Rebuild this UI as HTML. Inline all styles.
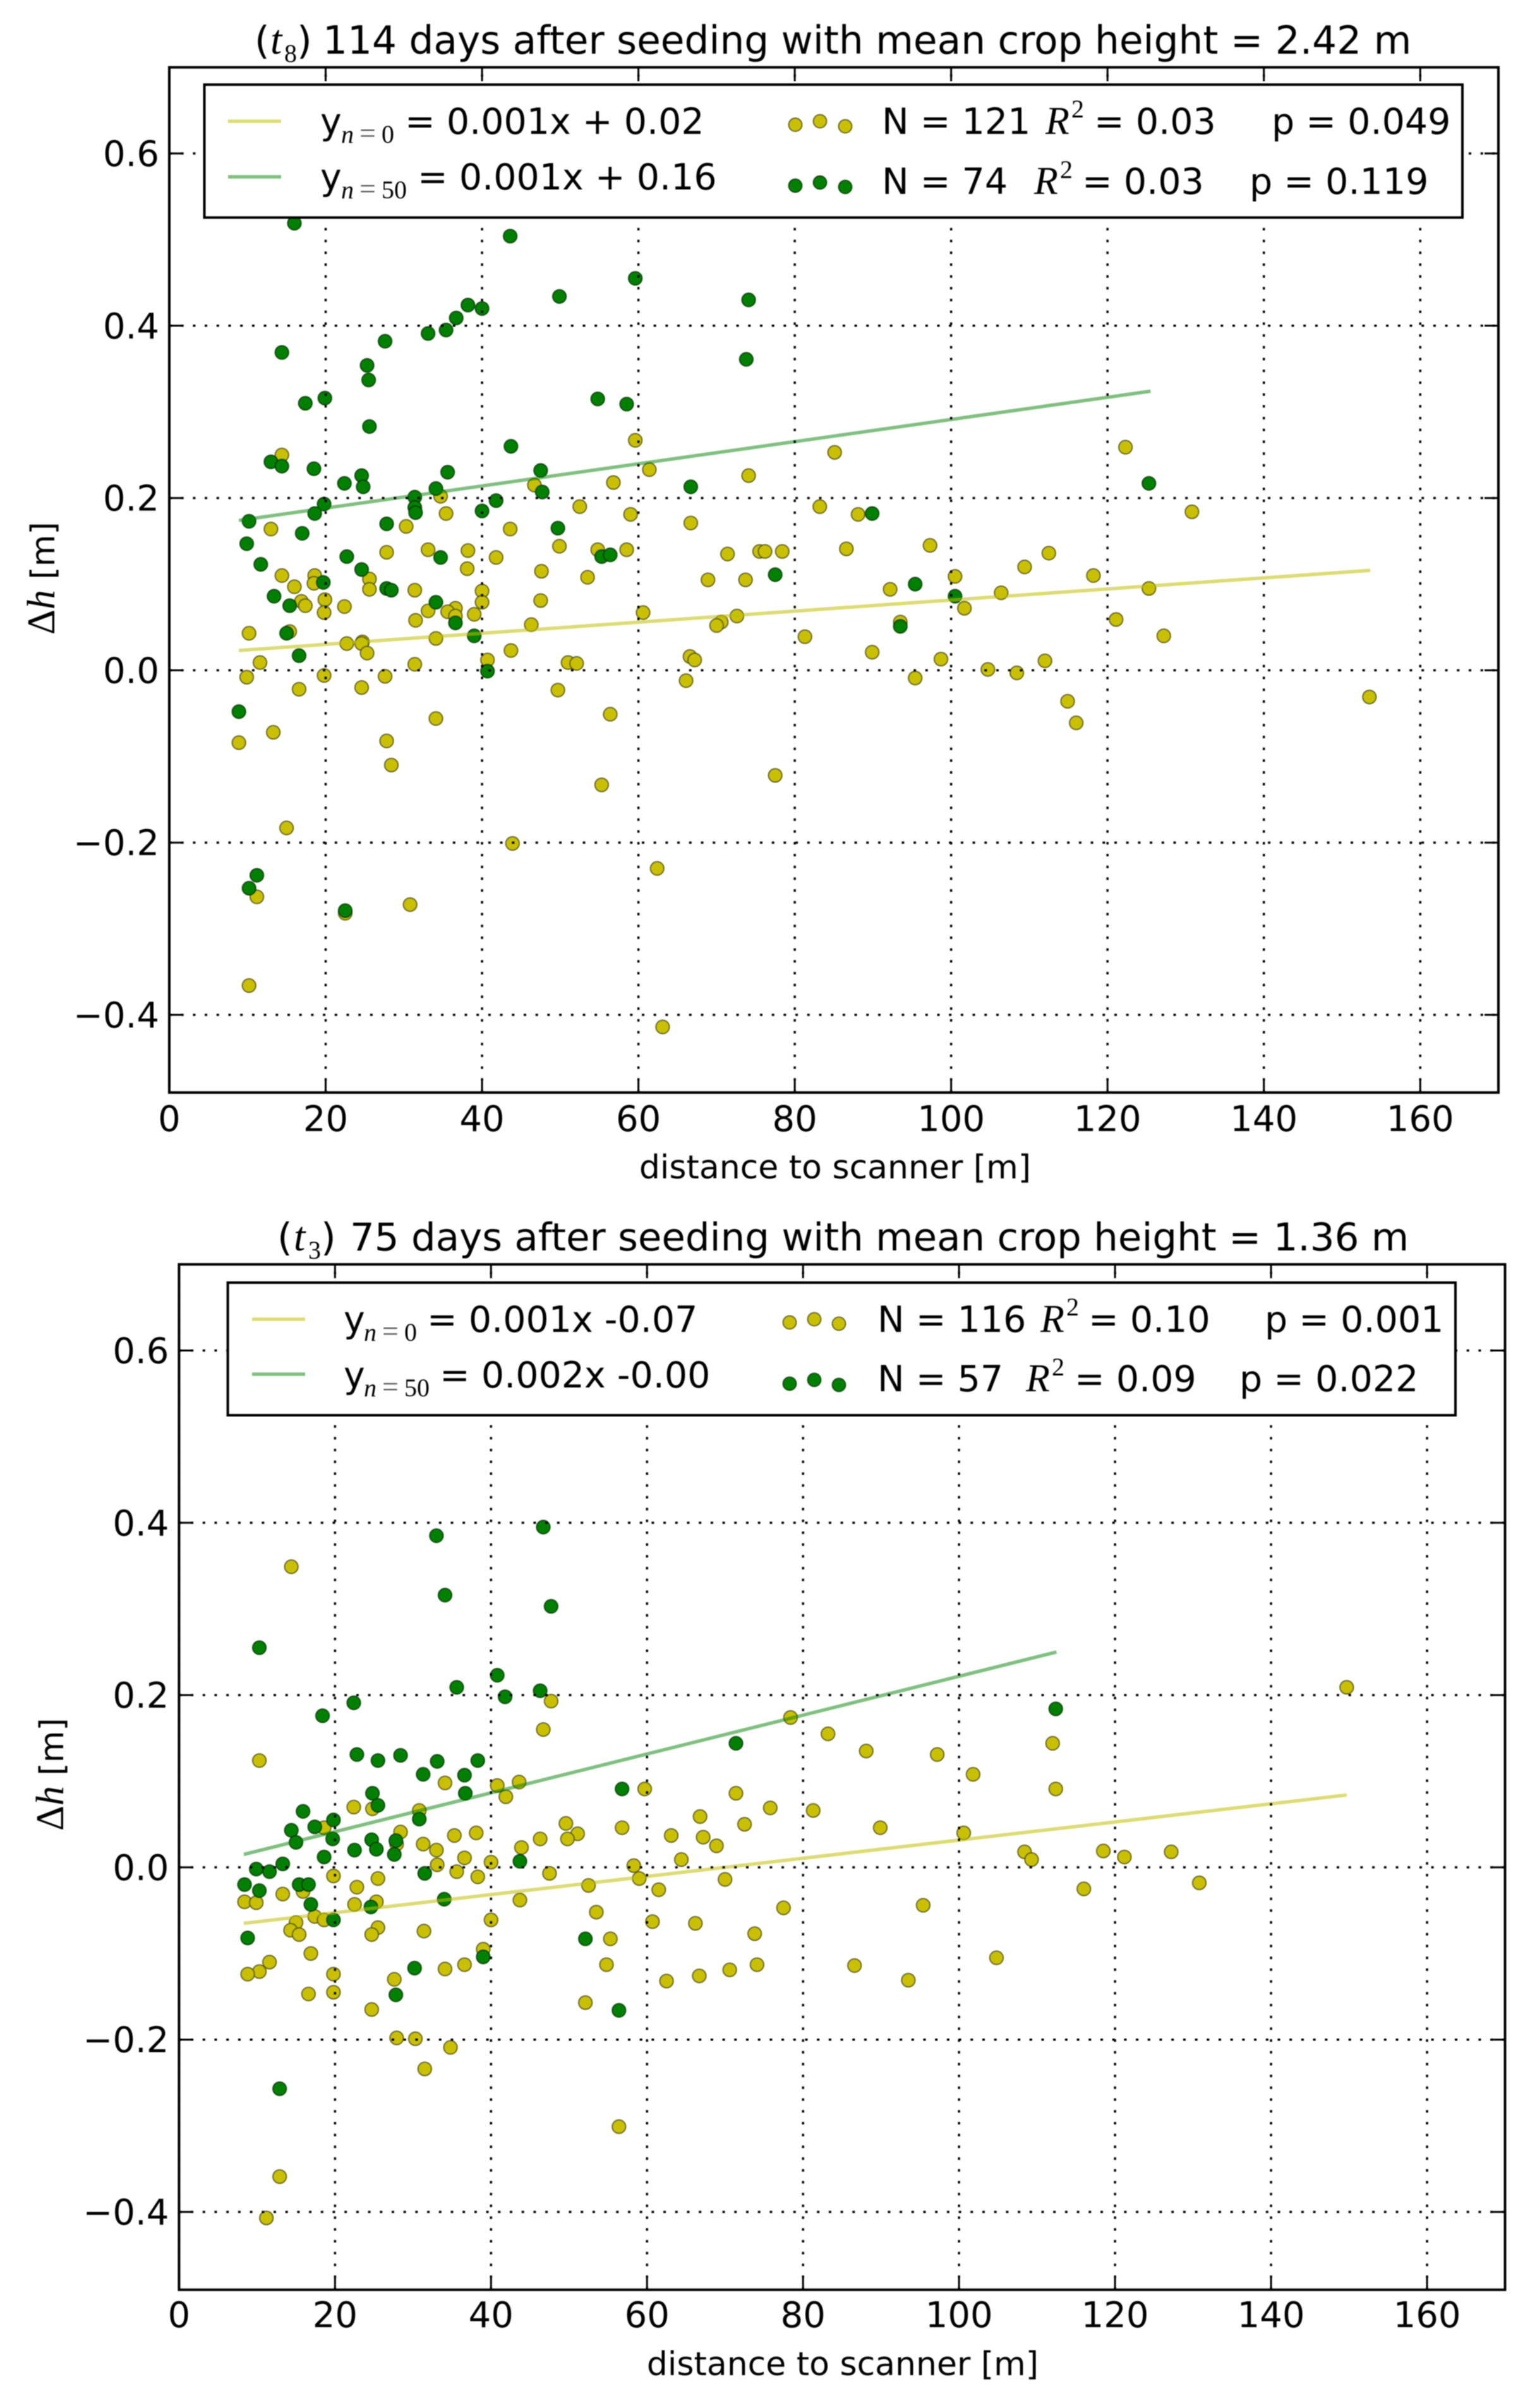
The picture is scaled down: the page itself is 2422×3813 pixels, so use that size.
<!DOCTYPE html>
<html>
<head>
<meta charset="utf-8">
<title>Crop height difference versus distance to scanner</title>
<style>
html,body{margin:0;padding:0;background:#fff;}
svg{display:block;filter:blur(0.7px);}
text{font-family:"DejaVu Sans","Liberation Sans",sans-serif;fill:#000;}
.m{font-family:"Liberation Serif","DejaVu Serif",serif;font-style:italic;}
.u{font-family:"Liberation Serif","DejaVu Serif",serif;}
.title{font-size:61px;}
.tm{font-size:66px;}
.leg{font-size:57px;}
.sub{font-size:40px;}
.ssym{font-size:46px;fill:#555;}
.rr{font-size:62px;}
.tick{font-size:56px;}
.axl{font-size:52px;}
</style>
</head>
<body>
<svg id="figure" xmlns="http://www.w3.org/2000/svg" width="2422" height="3813" viewBox="0 0 2422 3813">
<rect width="2422" height="3813" fill="#fff"/>

<g id="panel-t8"></g>
<g>
<text class="title" x="403" y="85">(</text>
<text class="tm m" x="428" y="85">t</text>
<text class="sub u" x="450" y="98">8</text>
<text class="title" x="470" y="85">)</text>
<text class="title" style="font-size:61.3px" x="511" y="85">114 days after seeding with mean crop height = 2.42 m</text>
</g>
<text class="axl" x="1322" y="1866" text-anchor="middle">distance to scanner [m]</text>
<g transform="translate(86,1005) rotate(-90)">
<text class="axl" x="0" y="0"><tspan class="u" style="font-size:62px">Δ</tspan><tspan class="m" style="font-size:62px">h</tspan> [m]</text>
</g>
<g>
<rect x="323.5" y="134" width="1991.5" height="210.5" fill="#fff" stroke="#000" stroke-width="4"/>
<line x1="361" x2="445" y1="192" y2="192" stroke="#bfbf00" stroke-opacity="0.55" stroke-width="5.5"/>
<line x1="361" x2="445" y1="280" y2="280" stroke="#008000" stroke-opacity="0.5" stroke-width="5.5"/>
<text class="leg" x="507" y="212">y</text>
<text class="sub m" x="540" y="226">n</text><text class="ssym u" x="569" y="226">=</text><text class="sub u" x="604" y="226">0</text>
<text class="leg" x="641" y="212">= 0.001x + 0.02</text>
<text class="leg" x="507" y="300">y</text>
<text class="sub m" x="540" y="314">n</text><text class="ssym u" x="569" y="314">=</text><text class="sub u" x="604" y="314">50</text>
<text class="leg" x="661" y="300">= 0.001x + 0.16</text>
<g fill="#c8c000" stroke="#4a4a10" stroke-opacity="0.75" stroke-width="2"><circle cx="1259" cy="197.5" r="10.5"/><circle cx="1298" cy="192" r="10.5"/><circle cx="1338" cy="200" r="10.5"/></g>
<g fill="#008000" stroke="#003000" stroke-opacity="0.75" stroke-width="2"><circle cx="1259" cy="294" r="10.5"/><circle cx="1298" cy="289" r="10.5"/><circle cx="1338" cy="296" r="10.5"/></g>
<text class="leg" x="1396" y="212">N = 121</text><text class="rr m" x="1655" y="212">R</text><text class="sub u" x="1696" y="186">2</text><text class="leg" x="1732" y="212">= 0.03</text><text class="leg" x="2013" y="212">p = 0.049</text>
<text class="leg" x="1396" y="307">N = 74</text><text class="rr m" x="1637" y="307">R</text><text class="sub u" x="1678" y="282">2</text><text class="leg" x="1713" y="307">= 0.03</text><text class="leg" x="1978" y="307">p = 0.119</text>
</g>

<g id="panel-t3"></g>
<g>
<text class="title" x="439" y="1980">(</text>
<text class="tm m" x="465" y="1980">t</text>
<text class="sub u" x="488" y="1993">3</text>
<text class="title" x="508" y="1980">)</text>
<text class="title" x="554" y="1980">75 days after seeding with mean crop height = 1.36 m</text>
</g>
<text class="axl" x="1334" y="3761" text-anchor="middle">distance to scanner [m]</text>
<g transform="translate(100,2899) rotate(-90)">
<text class="axl" x="0" y="0"><tspan class="u" style="font-size:62px">Δ</tspan><tspan class="m" style="font-size:62px">h</tspan> [m]</text>
</g>
<g>
<rect x="360.6" y="2031" width="1943.4" height="210" fill="#fff" stroke="#000" stroke-width="4"/>
<line x1="399" x2="483" y1="2089" y2="2089" stroke="#bfbf00" stroke-opacity="0.55" stroke-width="5.5"/>
<line x1="399" x2="483" y1="2176" y2="2176" stroke="#008000" stroke-opacity="0.5" stroke-width="5.5"/>
<text class="leg" x="544" y="2109">y</text>
<text class="sub m" x="576" y="2123">n</text><text class="ssym u" x="605" y="2123">=</text><text class="sub u" x="640" y="2123">0</text>
<text class="leg" x="676" y="2109">= 0.001x -0.07</text>
<text class="leg" x="544" y="2197">y</text>
<text class="sub m" x="576" y="2211">n</text><text class="ssym u" x="605" y="2211">=</text><text class="sub u" x="640" y="2211">50</text>
<text class="leg" x="696" y="2197">= 0.002x -0.00</text>
<g fill="#c8c000" stroke="#4a4a10" stroke-opacity="0.75" stroke-width="2"><circle cx="1250" cy="2094" r="10.5"/><circle cx="1289" cy="2089" r="10.5"/><circle cx="1328" cy="2096" r="10.5"/></g>
<g fill="#008000" stroke="#003000" stroke-opacity="0.75" stroke-width="2"><circle cx="1250" cy="2191" r="10.5"/><circle cx="1289" cy="2185" r="10.5"/><circle cx="1328" cy="2193" r="10.5"/></g>
<text class="leg" x="1389" y="2109">N = 116</text><text class="rr m" x="1647" y="2109">R</text><text class="sub u" x="1688" y="2083">2</text><text class="leg" x="1723" y="2109">= 0.10</text><text class="leg" x="2002" y="2109">p = 0.001</text>
<text class="leg" x="1389" y="2203">N = 57</text><text class="rr m" x="1624" y="2203">R</text><text class="sub u" x="1665" y="2178">2</text><text class="leg" x="1701" y="2203">= 0.09</text><text class="leg" x="1962" y="2203">p = 0.022</text>
</g>
</svg>

<script>
var xTicks = [0, 20, 40, 60, 80, 100, 120, 140, 160];
var yTicks = [-0.4, -0.2, 0.0, 0.2, 0.4, 0.6];
var yTickLabels = ['\u22120.4', '\u22120.2', '0.0', '0.2', '0.4', '0.6'];

var t8YellowX = [14.4,13.0,34.7,35.4,30.3,46.7,43.6,52.5,49.9,56.8,59,59.6,61.4,66.7,74.1,71.4,75.5,27.8,33.1,38.2,41.8,54.8,58.5,85.1,83.2,88.1,78.4,76.2,86.6,97.3,122.3,130.8,112.5,14.4,18.6,18.5,16,25.6,19.9,25.6,31.4,16.9,17.4,22.4,19.8,38.1,47.6,53.5,40,40,47.5,36.6,35.6,33.1,31.5,36.6,39,46.3,60.6,68.9,73.7,72.6,70.6,70,10.2,15.4,24.7,24.6,22.7,25.3,34.1,43.7,40.7,51,52.1,66.6,67.2,11.6,31.4,9.9,19.8,27.6,16.6,24.6,49.7,66.1,56.4,34.1,13.3,8.9,27.8,28.4,55.3,15,43.9,62.4,11.2,30.8,22.5,10.2,63.1,109.4,118.2,100.5,92.2,106.4,125.3,101.7,121.1,93.5,81.3,127.2,89.9,98.7,112,104.7,108.4,95.4,114.9,116,153.5,77.5];
var t8YellowY = [0.250,0.164,0.202,0.182,0.167,0.215,0.164,0.190,0.144,0.218,0.181,0.267,0.233,0.171,0.226,0.135,0.138,0.137,0.140,0.139,0.131,0.140,0.140,0.253,0.190,0.181,0.138,0.138,0.141,0.145,0.259,0.184,0.136,0.110,0.110,0.101,0.097,0.106,0.082,0.094,0.093,0.080,0.075,0.074,0.067,0.118,0.115,0.108,0.092,0.079,0.081,0.072,0.068,0.069,0.058,0.063,0.065,0.053,0.067,0.105,0.105,0.063,0.056,0.052,0.043,0.045,0.033,0.031,0.031,0.020,0.037,0.023,0.012,0.009,0.008,0.016,0.012,0.009,0.007,-0.008,-0.006,-0.007,-0.022,-0.020,-0.023,-0.012,-0.051,-0.056,-0.072,-0.084,-0.082,-0.110,-0.133,-0.183,-0.201,-0.230,-0.263,-0.272,-0.282,-0.366,-0.414,0.120,0.110,0.109,0.094,0.090,0.095,0.072,0.059,0.056,0.039,0.040,0.021,0.013,0.011,0.001,-0.003,-0.009,-0.036,-0.061,-0.031,-0.122];
var t8GreenX = [16,43.6,59.6,49.9,74.1,38.2,40,36.7,35.4,33.1,27.6,14.4,25.3,25.5,73.8,54.8,58.5,19.9,17.4,25.6,43.7,13,14.4,18.5,35.6,24.6,22.4,24.8,47.5,47.7,66.7,31.4,34.1,31.4,31.5,41.8,40,19.8,18.6,10.2,27.8,9.9,17,49.7,22.7,34.7,55.3,56.4,11.7,24.6,89.9,125.3,19.7,27.8,28.4,34.1,13.4,15.4,36.6,15,39,16.6,40.7,8.9,11.2,10.2,22.5,77.5,95.4,100.5,93.5];
var t8GreenY = [0.519,0.504,0.455,0.434,0.430,0.424,0.420,0.409,0.395,0.391,0.382,0.369,0.354,0.337,0.361,0.315,0.309,0.316,0.310,0.283,0.260,0.242,0.237,0.234,0.230,0.226,0.217,0.213,0.232,0.207,0.213,0.201,0.211,0.189,0.183,0.197,0.185,0.193,0.182,0.173,0.170,0.147,0.159,0.165,0.132,0.131,0.132,0.134,0.123,0.117,0.182,0.217,0.102,0.095,0.093,0.079,0.086,0.075,0.055,0.043,0.040,0.017,-0.001,-0.048,-0.238,-0.253,-0.279,0.111,0.100,0.086,0.051];
var t8YellowLineX = [8.9, 153.6];
var t8YellowLineY = [0.023, 0.116];
var t8GreenLineX = [8.9, 125.5];
var t8GreenLineY = [0.174, 0.324];

var t3YellowX = [14.4,47.7,46.7,10.3,34.1,40.8,43.6,41.9,59.7,71.4,78.4,83.2,88.1,97.2,101.8,112,112.4,149.7,22.4,24.8,30.8,18.6,28.4,35.3,38.1,49.6,51.1,49.8,46.3,43.9,56.8,66.8,72.5,63.1,67.2,68.9,64.4,27.9,31.3,33,36.6,33.1,40,35.6,38.3,47.5,58.3,59,19.8,25.5,22.8,70,52.5,61.5,15.9,13.3,8.4,9.9,22.5,25.3,43.7,53.5,17.4,18.6,15,40,25.5,24.7,14.3,15.4,31.4,60.7,66.2,73.8,55.3,16.9,39,11.6,10.3,8.8,19.8,34.1,36.6,54.8,74.1,70.6,66.7,62.5,27.6,16.6,19.8,52.1,24.7,27.9,30.3,34.8,31.5,56.4,12.9,11.2,75.8,81.3,89.9,100.6,108.4,109.3,118.5,121.2,127.2,116,130.8,77.5,95.4,104.8,86.6,93.5];
var t3YellowY = [0.349,0.193,0.160,0.124,0.098,0.095,0.099,0.082,0.091,0.086,0.174,0.155,0.135,0.131,0.108,0.144,0.091,0.209,0.070,0.068,0.066,0.046,0.041,0.037,0.040,0.051,0.039,0.033,0.033,0.023,0.046,0.059,0.050,0.037,0.035,0.025,0.009,0.027,0.027,0.020,0.011,0.003,0.006,-0.005,-0.011,-0.007,0.002,-0.013,-0.010,-0.013,-0.023,-0.014,-0.021,-0.026,-0.028,-0.031,-0.040,-0.041,-0.043,-0.040,-0.038,-0.052,-0.057,-0.061,-0.064,-0.061,-0.070,-0.078,-0.073,-0.078,-0.074,-0.063,-0.065,-0.077,-0.083,-0.100,-0.095,-0.110,-0.121,-0.124,-0.124,-0.118,-0.113,-0.113,-0.113,-0.119,-0.126,-0.132,-0.130,-0.147,-0.145,-0.157,-0.165,-0.198,-0.199,-0.209,-0.234,-0.301,-0.359,-0.407,0.069,0.066,0.046,0.040,0.018,0.009,0.019,0.012,0.018,-0.025,-0.018,-0.047,-0.044,-0.105,-0.114,-0.131];
var t3GreenX = [33,46.7,34.1,47.7,10.3,40.8,35.6,41.8,46.3,22.4,18.4,71.4,22.8,25.5,28.4,33.1,38.3,31.3,36.6,24.8,36.7,56.8,112.4,15.9,25.5,19.8,17.4,30.8,14.4,19.7,15,24.7,25.3,22.5,27.8,27.6,18.6,9.9,11.6,13.3,31.5,43.7,8.4,15.4,16.6,10.3,16.9,34,24.6,19.8,8.8,52.1,39,30.2,27.8,56.4,12.9];
var t3GreenY = [0.385,0.395,0.316,0.303,0.255,0.223,0.209,0.198,0.205,0.191,0.176,0.144,0.131,0.124,0.130,0.123,0.124,0.108,0.107,0.086,0.086,0.091,0.184,0.065,0.072,0.055,0.047,0.056,0.043,0.033,0.029,0.032,0.021,0.020,0.031,0.015,0.012,-0.002,-0.005,0.004,-0.007,0.007,-0.020,-0.020,-0.020,-0.027,-0.043,-0.037,-0.046,-0.061,-0.082,-0.083,-0.104,-0.117,-0.148,-0.166,-0.257];
var t3YellowLineX = [8.3, 149.7];
var t3YellowLineY = [-0.065, 0.084];
var t3GreenLineX = [8.3, 112.5];
var t3GreenLineY = [0.015, 0.250];

var NS = 'http://www.w3.org/2000/svg';
var xMin = 0, xMax = 170, yMin = -0.49, yMax = 0.7;

function mk(parent, tag, attrs, text) {
  var el = document.createElementNS(NS, tag);
  for (var k in attrs) { el.setAttribute(k, attrs[k]); }
  if (text !== undefined) { el.textContent = text; }
  parent.appendChild(el);
  return el;
}

function drawPanel(groupId, box, s) {
  var root = document.getElementById(groupId);
  function sx(v) { return box.left + (v - xMin) / (xMax - xMin) * (box.right - box.left); }
  function sy(v) { return box.zero - v * box.perUnit; }
  var top = sy(yMax), bottom = box.bottom;

  var yellowG = mk(root, 'g', {fill: '#c8c000', stroke: '#4a4a10', 'stroke-opacity': 0.75, 'stroke-width': 2});
  
  
  s.yellowX.forEach(function (x, i) {
    var c = mk(yellowG, 'circle', {cx: sx(x), cy: sy(s.yellowY[i]), r: 10.7});
    
    
  });

  var greenG = mk(root, 'g', {fill: '#008000', stroke: '#003000', 'stroke-opacity': 0.75, 'stroke-width': 2});
  
  
  s.greenX.forEach(function (x, i) {
    var c = mk(greenG, 'circle', {cx: sx(x), cy: sy(s.greenY[i]), r: 10.7});
    
    
  });

  var yl = mk(root, 'line', {x1: sx(s.yLineX[0]), x2: sx(s.yLineX[1]), y1: sy(s.yLineY[0]), y2: sy(s.yLineY[1]), stroke: '#bfbf00', 'stroke-opacity': 0.55, 'stroke-width': 5.5});
  
  
  var gl = mk(root, 'line', {x1: sx(s.gLineX[0]), x2: sx(s.gLineX[1]), y1: sy(s.gLineY[0]), y2: sy(s.gLineY[1]), stroke: '#008000', 'stroke-opacity': 0.5, 'stroke-width': 5.5});
  
  

  xTicks.forEach(function (t) {
    var g = mk(root, 'line', {x1: sx(t), x2: sx(t), y1: bottom, y2: top, stroke: '#000', 'stroke-width': 3.5, 'stroke-dasharray': '4 14.7'});
    
    
    var t1 = mk(root, 'line', {x1: sx(t), x2: sx(t), y1: bottom, y2: bottom - 22, stroke: '#000', 'stroke-width': 3});
    
    
    var t2 = mk(root, 'line', {x1: sx(t), x2: sx(t), y1: top, y2: top + 22, stroke: '#000', 'stroke-width': 3});
    
    
    var lab = mk(root, 'text', {'class': 'tick', x: sx(t), y: box.xLabelY, 'text-anchor': 'middle'}, String(t));
    
    
  });

  yTicks.forEach(function (t, i) {
    var g = mk(root, 'line', {x1: box.left, x2: box.right, y1: sy(t), y2: sy(t), stroke: '#000', 'stroke-width': 3.5, 'stroke-dasharray': '4 14.7'});
    
    
    var t1 = mk(root, 'line', {x1: box.left, x2: box.left + 22, y1: sy(t), y2: sy(t), stroke: '#000', 'stroke-width': 3});
    
    
    var t2 = mk(root, 'line', {x1: box.right - 22, x2: box.right, y1: sy(t), y2: sy(t), stroke: '#000', 'stroke-width': 3});
    
    
    var lab = mk(root, 'text', {'class': 'tick', x: box.left - 16, y: sy(t) + 20, 'text-anchor': 'end'}, yTickLabels[i]);
    
    
  });

  var frame = mk(root, 'rect', {x: box.left, y: top, width: box.right - box.left, height: bottom - top, fill: 'none', stroke: '#000', 'stroke-width': 4});
  
  
}

drawPanel('panel-t8',
  {left: 268, right: 2372, zero: 1061.4, perUnit: 1364, bottom: 1730, xLabelY: 1791},
  {yellowX: t8YellowX, yellowY: t8YellowY, greenX: t8GreenX, greenY: t8GreenY,
   yLineX: t8YellowLineX, yLineY: t8YellowLineY, gLineX: t8GreenLineX, gLineY: t8GreenLineY});

drawPanel('panel-t3',
  {left: 283.4, right: 2382.5, zero: 2956.9, perUnit: 1364, bottom: 3625.8, xLabelY: 3685},
  {yellowX: t3YellowX, yellowY: t3YellowY, greenX: t3GreenX, greenY: t3GreenY,
   yLineX: t3YellowLineX, yLineY: t3YellowLineY, gLineX: t3GreenLineX, gLineY: t3GreenLineY});
</script>
</body>
</html>
